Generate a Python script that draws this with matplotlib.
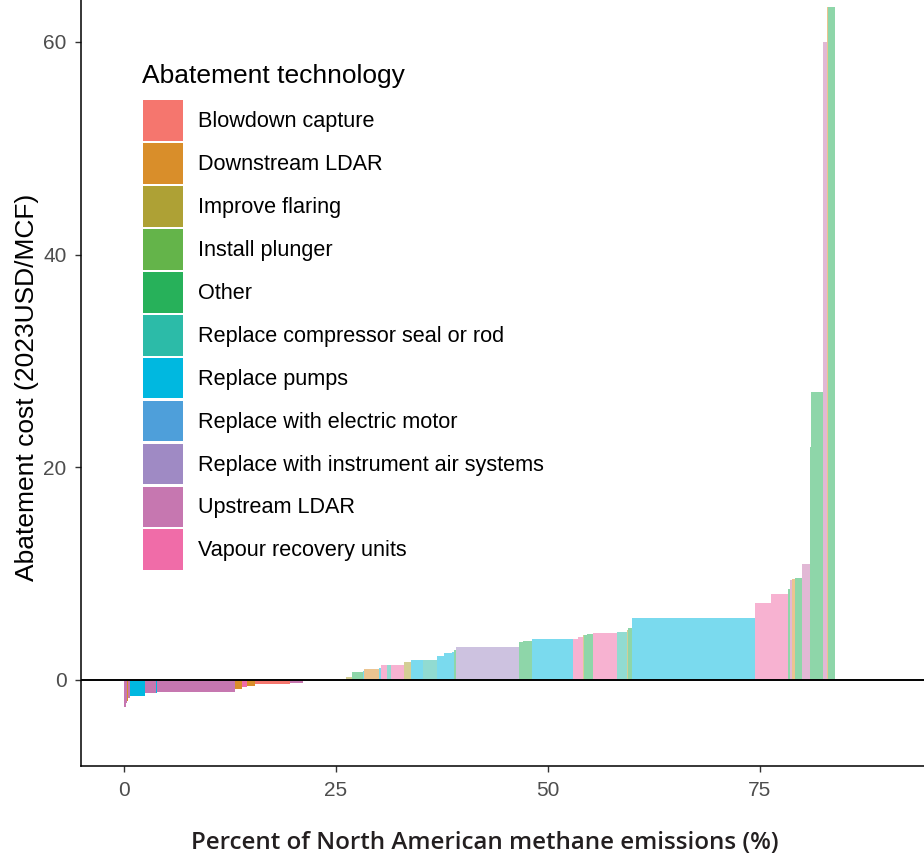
import matplotlib
matplotlib.use('Agg')
import matplotlib.pyplot as plt
from matplotlib.patches import Patch
import numpy as np

# legend order / colours
technologies = ["Blowdown capture", "Downstream LDAR", "Improve flaring", "Install plunger",
                "Other", "Replace compressor seal or rod", "Replace pumps",
                "Replace with electric motor", "Replace with instrument air systems",
                "Upstream LDAR", "Vapour recovery units"]
tech_colors = ["#F5766E", "#D98E2A", "#AEA135", "#64B44A", "#27B15A", "#2CBBA8",
               "#00B8E0", "#4E9FDA", "#9F8AC4", "#C677B0", "#F06CA8"]

# abatement measures, sorted by cost: share of emissions (%) and cost (2023USD/MCF)
bar_tech = ["Upstream LDAR", "Upstream LDAR", "Downstream LDAR", "Upstream LDAR", "Replace pumps",
            "Upstream LDAR", "Replace pumps", "Upstream LDAR", "Downstream LDAR",
            "Vapour recovery units", "Downstream LDAR", "Blowdown capture", "Upstream LDAR",
            "Other",
            "Improve flaring", "Other", "Replace pumps", "Downstream LDAR", "Replace pumps",
            "Vapour recovery units", "Replace compressor seal or rod", "Vapour recovery units",
            "Improve flaring", "Replace pumps", "Replace compressor seal or rod", "Replace pumps",
            "Replace pumps", "Replace pumps", "Other", "Replace with instrument air systems",
            "Other", "Other", "Replace pumps", "Vapour recovery units", "Vapour recovery units",
            "Improve flaring", "Other", "Other", "Vapour recovery units",
            "Replace compressor seal or rod", "Improve flaring", "Other", "Replace pumps",
            "Vapour recovery units", "Vapour recovery units", "Other", "Upstream LDAR",
            "Downstream LDAR", "Other", "Upstream LDAR", "Other", "Other", "Upstream LDAR",
            "Upstream LDAR", "Downstream LDAR", "Other"]
bar_share = [0.2, 0.15, 0.1, 0.3, 1.73, 1.32, 0.12, 9.18, 0.8, 0.65, 0.85, 4.2, 1.5,
             5.08,
             0.67, 1.37, 0.12, 1.73, 0.2, 0.78, 0.44, 1.53, 0.79, 1.41, 1.65, 0.87, 0.9, 0.33,
             0.15, 7.5, 0.46, 1.0, 4.9, 0.59, 0.59, 0.12, 0.28, 0.71, 2.83, 1.24, 0.12, 0.41,
             14.54, 1.85, 2.08, 0.2, 0.2, 0.39, 0.79, 0.98, 0.17, 1.32, 0.09, 0.38, 0.12, 0.86]
bar_cost = [-2.55, -2.2, -2.0, -1.7, -1.47, -1.25, -1.2, -1.16, -0.85, -0.63, -0.53, -0.35, -0.25,
            0.0,
            0.3, 0.72, 0.8, 1.0, 1.1, 1.38, 1.38, 1.38, 1.69, 1.88, 1.88, 2.29, 2.5, 2.66, 2.8,
            3.13, 3.54, 3.7, 3.86, 3.86, 4.07, 4.2, 4.23, 4.33, 4.45, 4.54, 4.7, 4.86, 5.8,
            7.27, 8.06, 8.6, 9.4, 9.5, 9.56, 10.88, 21.9, 27.1, 35.9, 60.0, 63.3, 63.3]

color_of = dict(zip(technologies, tech_colors))
share = np.array(bar_share)
cost = np.array(bar_cost)
left = np.concatenate([[0], np.cumsum(share)[:-1]])

fig = plt.figure(figsize=(9.24, 8.57), dpi=100)
ax = fig.add_axes([81/924, 91/857, 1 - 81/924, 1 - 91/857])

for x0, w, c, t in zip(left, share, cost, bar_tech):
    if c == 0:
        continue
    ax.bar(x0, c, width=w, align='edge', color=color_of[t],
           alpha=1.0 if c < 0 else 0.52, linewidth=0)

ax.axhline(0, color='black', lw=1.4, zorder=3)

ax.set_xlim(-5.07, 94.34)
ax.set_ylim(-8.09, 63.94)
ax.set_xticks([0, 25, 50, 75])
ax.set_yticks([0, 20, 40, 60])
for s in ['top', 'right']:
    ax.spines[s].set_visible(False)
for s in ['left', 'bottom']:
    ax.spines[s].set_linewidth(1.1)
ax.tick_params(length=4, width=1.0, color='#333333', labelcolor='#4D4D4D',
               labelsize=15, pad=6.5)
for lab in ax.get_xticklabels() + ax.get_yticklabels():
    lab.set_family('Liberation Sans')

fig.text(27/924, 1 - 387/857, "Abatement cost (2023USD/MCF)", rotation=90,
         ha='center', va='center', fontsize=19, family='Liberation Sans', color='black')
fig.text(485/924, 1 - 843/857, "Percent of North American methane emissions (%)",
         ha='center', va='center', fontsize=17.4, family='Open Sans', fontweight='semibold',
         color='#231F20')

# legend title as separate text, keys below it
fig.text(142/924, 1 - 76/857, "Abatement technology", ha='left', va='center',
         fontsize=19, family='Liberation Sans', color='black')
handles = [Patch(facecolor=c, edgecolor='none') for c in tech_colors]
leg = ax.legend(handles, technologies, loc='upper left',
                bbox_to_anchor=(143/924, 1 - 100.5/857), bbox_transform=fig.transFigure,
                frameon=False, borderpad=0, borderaxespad=0, fontsize=15.6,
                handlelength=1.84, handleheight=2.5,
                labelspacing=0.11, handletextpad=0.68)
for t in leg.get_texts():
    t.set_family('Liberation Sans')

fig.savefig('out.png', dpi=100)
